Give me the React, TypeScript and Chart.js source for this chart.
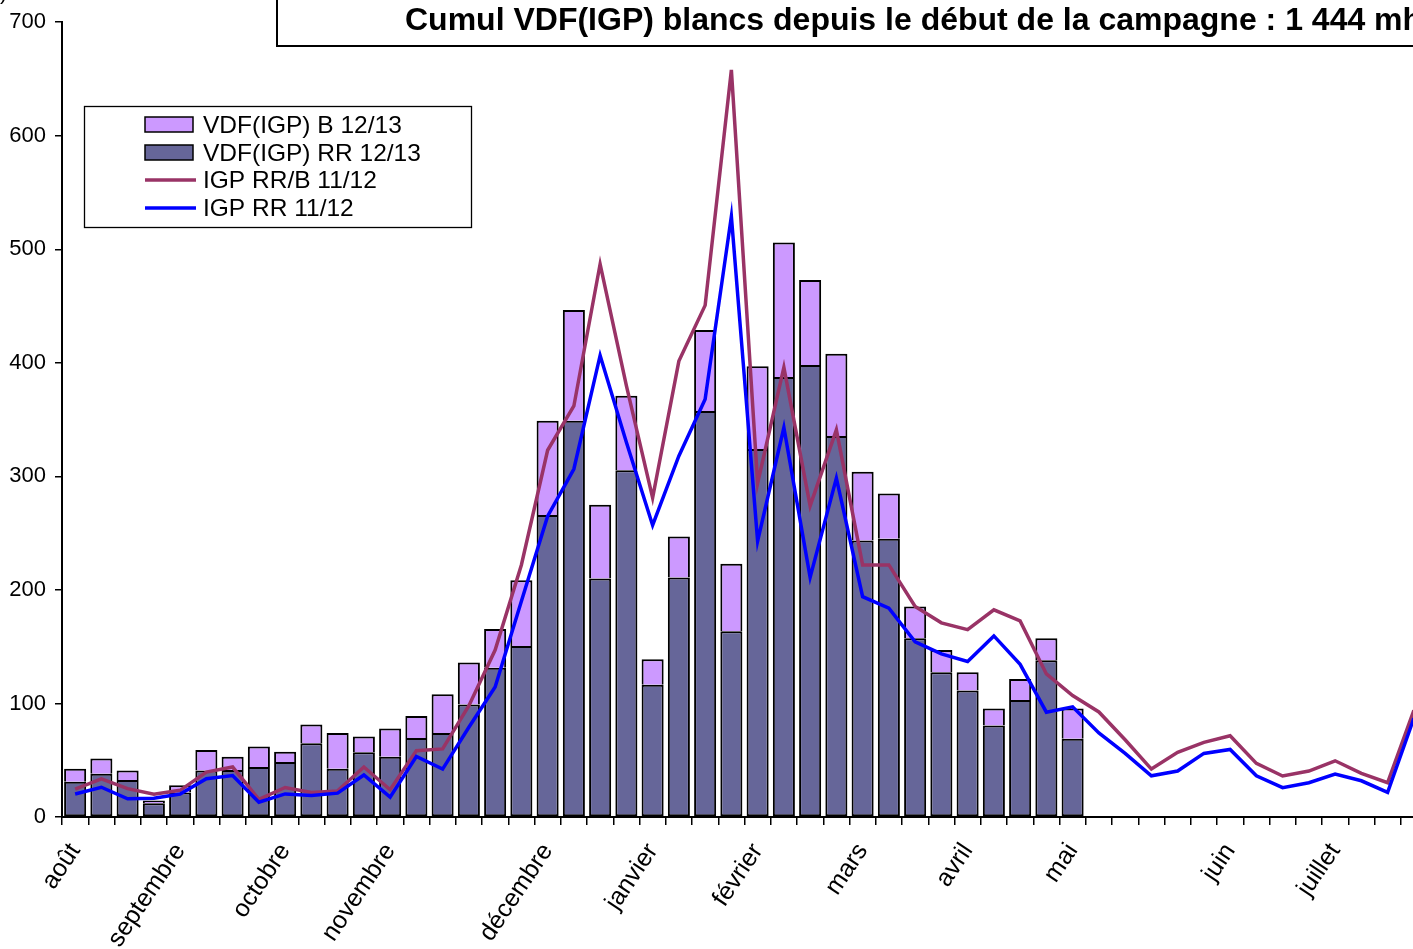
import React, { useEffect, useRef } from 'react';
import { Chart, registerables } from 'chart.js';

Chart.register(...registerables);

const categories: string[] = [
  'août', '', '', '', 'septembre', '', '', '', 'octobre', '', '', '', 'novembre', '', '', '', '', '', 'décembre', '', '',
  '', 'janvier', '', '', '', 'février', '', '', '', 'mars', '', '', '', 'avril', '', '', '', 'mai', '', '', '', '', '',
  'juin', '', '', '', 'juillet', '', '', '',
];

// VDF(IGP) RR 12/13 (bottom, dark)
const rr1213: number[] = [
  31, 38, 32.5, 12, 21.5, 41, 41.5, 44, 48.5, 65, 42.5, 57, 53, 69.5, 74, 99, 131.5, 150.5, 266, 349,
  210, 305.5, 116.5, 211, 357.5, 163.5, 324, 387.5, 398, 335.5, 243.5, 245, 157.5, 127.5, 111.5, 80.5, 103, 138, 69,
];

// VDF(IGP) B 12/13 (top, light)
const b1213: number[] = [
  11.5, 13.5, 8.5, 2.5, 6.5, 18, 11.5, 18, 9, 16.5, 31.5, 14, 25, 19.5, 34, 37, 34, 58, 83, 97.5,
  65, 65.5, 22.5, 36, 71.5, 59.5, 73, 118.5, 75, 72.5, 60.5, 40, 28, 19.5, 16, 15, 18.5, 19.5, 26.5,
];

// IGP RR/B 11/12
const rrb1112: number[] = [
  24.5, 33.5, 25, 20, 23.5, 39.5, 44, 15.5, 26, 21.5, 23, 44, 24, 58.3, 60, 98, 147, 222, 323, 362,
  487, 380, 281, 401.5, 450.6, 658, 294, 396, 274, 341, 222, 222, 185.5, 171, 165, 182.5, 172.7, 126, 107, 92.5,
  68, 42.2, 57, 65.7, 71.5, 47.2, 36.1, 40.5, 49.5, 38.4, 30.2, 94,
];

// IGP RR 11/12
const rr1112: number[] = [
  20.3, 26.2, 16, 16.5, 20.3, 33.7, 36.5, 13, 20.3, 19, 21, 37, 17.5, 53.3, 42.2, 79, 114.5, 190, 265, 306.5,
  406.5, 330, 257, 318, 368, 529, 243, 343, 211, 298.5, 194, 184, 154.3, 143.6, 137, 159.5, 134.5, 92.3, 97, 74,
  56, 36.3, 40.5, 56, 59.5, 36.3, 25.8, 30.2, 37.8, 31.9, 21.7, 87,
];

const titleText = 'Cumul VDF(IGP) blancs depuis le début de la campagne : 1 444 mhl';
const legendLabels = ['VDF(IGP) B 12/13', 'VDF(IGP) RR 12/13', 'IGP RR/B 11/12', 'IGP RR 11/12'];

const W = 1460;
const H = 949;
const FONT = '"Liberation Sans", Arial, sans-serif';

const decorPlugin = {
  id: 'decor',
  afterDraw(chart: any) {
    const ctx = chart.ctx as CanvasRenderingContext2D;
    ctx.save();
    // title box
    ctx.fillStyle = '#fff';
    ctx.fillRect(276, -5, W, 51);
    ctx.strokeStyle = '#000';
    ctx.lineWidth = 2;
    ctx.strokeRect(277, -5, W, 51);
    ctx.fillStyle = '#000';
    ctx.font = `bold 32px ${FONT}`;
    ctx.textBaseline = 'alphabetic';
    ctx.textAlign = 'left';
    ctx.fillText(titleText, 405, 30);

    // axis unit fragment
    ctx.font = `22px ${FONT}`;
    ctx.fillText(')', 0, -1);

    // legend
    ctx.fillStyle = '#fff';
    ctx.fillRect(84, 106, 387, 121);
    ctx.strokeStyle = '#000';
    ctx.lineWidth = 1.3;
    ctx.strokeRect(84.5, 106.5, 387, 121);
    const rows = [125, 153, 180, 208];
    const ds = chart.data.datasets;
    [0, 1, 2, 3].forEach((di, i) => {
      const d = ds[di];
      const y = rows[i];
      if (d.type === 'bar') {
        ctx.fillStyle = d.backgroundColor;
        ctx.fillRect(145, y - 8, 48, 15);
        ctx.strokeStyle = '#000';
        ctx.lineWidth = 1.5;
        ctx.strokeRect(145, y - 8, 48, 15);
      } else {
        ctx.strokeStyle = d.borderColor;
        ctx.lineWidth = 3.5;
        ctx.beginPath();
        ctx.moveTo(145, y);
        ctx.lineTo(196, y);
        ctx.stroke();
      }
      ctx.fillStyle = '#000';
      ctx.font = `24.5px ${FONT}`;
      ctx.textBaseline = 'middle';
      ctx.textAlign = 'left';
      ctx.fillText(legendLabels[i], 203, y + 1);
    });
    ctx.restore();
  },
};

export default function App() {
  const ref = useRef<HTMLCanvasElement | null>(null);
  useEffect(() => {
    if (!ref.current) return;
    const barCommon = {
      type: 'bar',
      borderColor: '#000',
      borderSkipped: false,
      barPercentage: 0.84,
      categoryPercentage: 1,
      stack: 'bars',
    };
    const chart = new Chart(ref.current, {
      type: 'bar',
      data: {
        labels: categories,
        datasets: [
          {
            ...barCommon,
            label: legendLabels[0],
            data: b1213,
            backgroundColor: '#CC99FF',
            borderWidth: { top: 2, left: 2, right: 2, bottom: 0 },
            order: 2,
          },
          {
            ...barCommon,
            label: legendLabels[1],
            data: rr1213,
            backgroundColor: '#666699',
            borderWidth: 2,
            order: 1,
          },
          {
            type: 'line',
            label: legendLabels[2],
            data: rrb1112,
            borderColor: '#993366',
            backgroundColor: '#993366',
            borderWidth: 3.5,
            pointRadius: 0,
            tension: 0,
            stack: 'l1',
            order: 0.5,
          },
          {
            type: 'line',
            label: legendLabels[3],
            data: rr1112,
            borderColor: '#0000FF',
            backgroundColor: '#0000FF',
            borderWidth: 3.5,
            pointRadius: 0,
            tension: 0,
            stack: 'l2',
            order: 0,
          },
        ] as any,
      },
      options: {
        responsive: false,
        animation: false,
        devicePixelRatio: 1,
        layout: { padding: { left: 0, right: W - 1427, top: 21, bottom: 0 } },
        plugins: {
          legend: { display: false },
          title: { display: false },
          tooltip: { enabled: false },
        },
        scales: {
          x: {
            stacked: true,
            offset: true,
            grid: {
              display: true,
              drawOnChartArea: false,
              drawTicks: true,
              tickLength: 8,
              color: '#000',
              lineWidth: 1.5,
              offset: true,
            },
            border: { display: true, color: '#000', width: 2 },
            ticks: {
              autoSkip: false,
              minRotation: 56,
              maxRotation: 56,
              padding: 13,
              color: '#000',
              font: { family: FONT, size: 25 },
            },
            afterFit: (s: any) => {
              s.height = H - 817;
            },
          },
          y: {
            stacked: true,
            min: 0,
            max: 700,
            grid: {
              display: true,
              drawOnChartArea: false,
              drawTicks: true,
              tickLength: 7,
              color: '#000',
              lineWidth: 1.5,
            },
            border: { display: true, color: '#000', width: 2 },
            ticks: {
              stepSize: 100,
              padding: 9,
              color: '#000',
              font: { family: FONT, size: 22 },
            },
            afterFit: (s: any) => {
              s.width = 62;
            },
          },
        },
      } as any,
      plugins: [decorPlugin],
    });
    return () => chart.destroy();
  }, []);

  return (
    <div
      style={{
        position: 'fixed',
        left: 0,
        top: 0,
        width: 1413,
        height: 949,
        overflow: 'hidden',
        background: '#fff',
      }}
    >
      <canvas ref={ref} width={W} height={H} style={{ display: 'block', width: W, height: H }} />
    </div>
  );
}
